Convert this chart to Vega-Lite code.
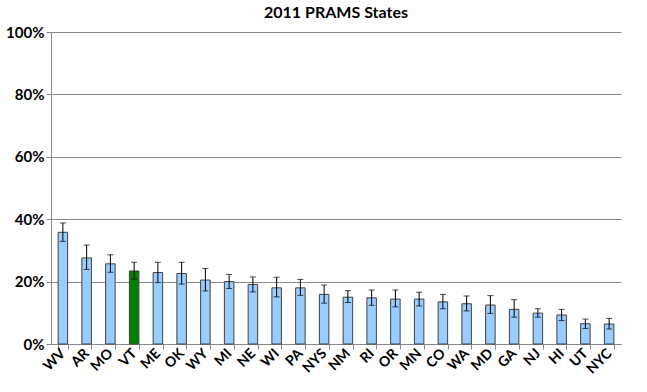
{
  "$schema": "https://vega.github.io/schema/vega-lite/v6.json",
  "width": 570,
  "height": 312,
  "title": {"text": "2011 PRAMS States", "font": "Lato", "fontSize": 16, "fontWeight": "bold", "color": "black"},
  "data": {"values": [
    {"state": "WV", "value": 35.8, "lo": 32.9, "hi": 38.8},
    {"state": "AR", "value": 27.6, "lo": 23.9, "hi": 31.7},
    {"state": "MO", "value": 25.7, "lo": 23.0, "hi": 28.6},
    {"state": "VT", "value": 23.4, "lo": 20.8, "hi": 26.2},
    {"state": "ME", "value": 22.9, "lo": 19.7, "hi": 26.2},
    {"state": "OK", "value": 22.6, "lo": 19.2, "hi": 26.2},
    {"state": "WY", "value": 20.5, "lo": 17.0, "hi": 24.2},
    {"state": "MI", "value": 20.0, "lo": 17.8, "hi": 22.3},
    {"state": "NE", "value": 19.1, "lo": 16.7, "hi": 21.5},
    {"state": "WI", "value": 18.0, "lo": 15.1, "hi": 21.4},
    {"state": "PA", "value": 18.0, "lo": 15.6, "hi": 20.7},
    {"state": "NYS", "value": 15.9, "lo": 13.1, "hi": 18.9},
    {"state": "NM", "value": 15.0, "lo": 13.3, "hi": 17.1},
    {"state": "RI", "value": 14.8, "lo": 12.4, "hi": 17.3},
    {"state": "OR", "value": 14.4, "lo": 11.9, "hi": 17.3},
    {"state": "MN", "value": 14.4, "lo": 12.2, "hi": 16.6},
    {"state": "CO", "value": 13.5, "lo": 11.3, "hi": 15.9},
    {"state": "WA", "value": 12.9, "lo": 10.6, "hi": 15.4},
    {"state": "MD", "value": 12.5, "lo": 9.8, "hi": 15.5},
    {"state": "GA", "value": 11.1, "lo": 8.6, "hi": 14.2},
    {"state": "NJ", "value": 9.9, "lo": 8.6, "hi": 11.3},
    {"state": "HI", "value": 9.3, "lo": 7.5, "hi": 11.1},
    {"state": "UT", "value": 6.5, "lo": 5.0, "hi": 8.0},
    {"state": "NYC", "value": 6.4, "lo": 4.8, "hi": 8.2}
  ]},
  "config": {
    "view": {"stroke": null},
    "axis": {"labelFont": "Lato", "labelFontWeight": "bold", "labelColor": "black"}
  },
  "layer": [
    {
      "mark": {"type": "bar", "stroke": "#404040", "strokeWidth": 1},
      "encoding": {
        "x": {"field": "state", "type": "nominal", "sort": null,
          "scale": {"paddingInner": 0.6, "paddingOuter": 0.3},
          "axis": {"title": null, "labelAngle": -45, "labelAlign": "right", "labelBaseline": "middle", "labelFontSize": 14, "tickBand": "extent"}},
        "y": {"field": "value", "type": "quantitative",
          "scale": {"domain": [0, 100], "nice": false},
          "axis": {"title": null, "values": [0,10,20,30,40,50,60,70,80,90,100], "tickCount": 10, "labelExpr": "datum.value + '%'", "labelFontSize": 15, "gridColor": "#888"}},
        "color": {"condition": {"test": "datum.state === 'VT'", "value": "#008000"}, "value": "#99ccff"}
      }
    },
    {
      "mark": {"type": "rule", "color": "black"},
      "encoding": {
        "x": {"field": "state", "type": "nominal", "sort": null},
        "y": {"field": "lo", "type": "quantitative"},
        "y2": {"field": "hi"}
      }
    },
    {
      "mark": {"type": "tick", "color": "black", "thickness": 1, "size": 6},
      "encoding": {
        "x": {"field": "state", "type": "nominal", "sort": null},
        "y": {"field": "lo", "type": "quantitative"}
      }
    },
    {
      "mark": {"type": "tick", "color": "black", "thickness": 1, "size": 6},
      "encoding": {
        "x": {"field": "state", "type": "nominal", "sort": null},
        "y": {"field": "hi", "type": "quantitative"}
      }
    }
  ]
}
